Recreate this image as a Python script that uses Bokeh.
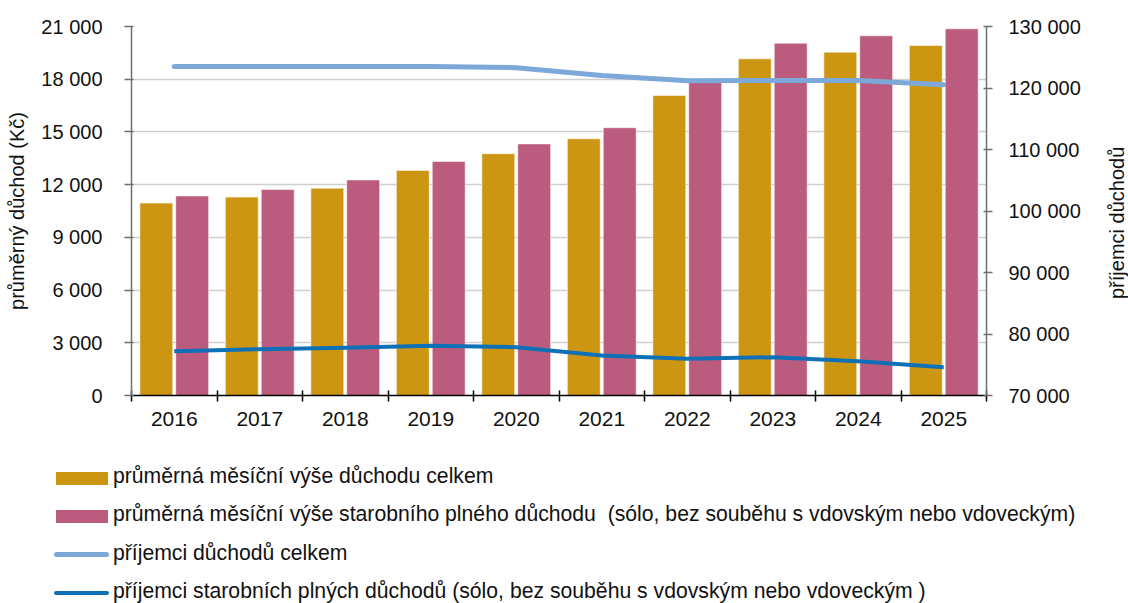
from bokeh.plotting import figure
from bokeh.layouts import column, row
from bokeh.models import (Range1d, LinearAxis, FixedTicker, ColumnDataSource, Div)
from bokeh.transform import dodge
from bokeh.embed import file_html
from bokeh.resources import INLINE

# ---- data ----
years = ["2016", "2017", "2018", "2019", "2020", "2021", "2022", "2023", "2024", "2025"]
avg_pension_total = [10950, 11290, 11800, 12810, 13760, 14610, 17070, 19160, 19540, 19920]
avg_old_age_full = [11360, 11720, 12270, 13320, 14320, 15240, 17870, 20050, 20470, 20870]
recipients_total = [123500, 123500, 123500, 123500, 123300, 122030, 121170, 121220, 121220, 120520]
recipients_old_age_full = [77200, 77530, 77750, 78080, 77850, 76500, 75960, 76230, 75580, 74600]
left_ticks = [0, 3000, 6000, 9000, 12000, 15000, 18000, 21000]
right_ticks = [70000, 80000, 90000, 100000, 110000, 120000, 130000]

left_title = "průměrný důchod (Kč)"
right_title = "příjemci důchodů"
label_bar1 = "průměrná měsíční výše důchodu celkem"
label_bar2 = "průměrná měsíční výše starobního plného důchodu  (sólo, bez souběhu s vdovským nebo vdoveckým)"
label_line1 = "příjemci důchodů celkem"
label_line2 = "příjemci starobních plných důchodů (sólo, bez souběhu s vdovským nebo vdoveckým )"

FONT = "Liberation Sans"
GOLD = "#CC9613"
PINK = "#BB5B7E"
LIGHT_BLUE = "#7CA8DA"
DARK_BLUE = "#0E71B8"
TXT = "#111111"

idx = list(range(len(years)))
src = ColumnDataSource(dict(x=idx, years=years, a=avg_pension_total, b=avg_old_age_full,
                            r1=recipients_total, r2=recipients_old_age_full))


def fmt(v):
    return f"{v:,}".replace(",", " ")


W = 1128
W_LABEL = 23
H_MAIN = 440
H_LEG = 163

p = figure(width=W - W_LABEL, height=H_MAIN, output_backend="svg", toolbar_location=None,
           x_range=Range1d(-0.5, len(years) - 0.5), y_range=Range1d(left_ticks[0], left_ticks[-1]),
           min_border_left=131, min_border_right=W - W_LABEL - 986, min_border_top=26,
           min_border_bottom=45)
p.extra_y_ranges = {"right": Range1d(right_ticks[0], right_ticks[-1])}
p.outline_line_color = None
p.background_fill_color = "white"
p.border_fill_color = "white"

# bars
bw = 0.385
bar_kw = dict(line_color="white", line_alpha=0.55, line_width=1)
rb1 = p.vbar(x=dodge("x", -0.21), top="a", width=bw, source=src, fill_color=GOLD, **bar_kw)
rb2 = p.vbar(x=dodge("x", 0.21), top="b", width=bw, source=src, fill_color=PINK, **bar_kw)

# lines
rl1 = p.line(x="x", y="r1", source=src, y_range_name="right", line_color=LIGHT_BLUE,
             line_width=5, line_cap="round", line_join="round")
rl2 = p.line(x="x", y="r2", source=src, y_range_name="right", line_color=DARK_BLUE,
             line_width=4, line_join="round")

# x axis
xa = p.xaxis[0]
xa.ticker = FixedTicker(ticks=idx, minor_ticks=[i - 0.5 for i in range(len(years) + 1)])
xa.major_label_overrides = {i: y for i, y in enumerate(years)}
xa.major_tick_out = 0
xa.major_tick_in = 0
xa.minor_tick_out = 6
xa.minor_tick_in = 5
xa.minor_tick_line_color = "#000000"
xa.minor_tick_line_width = 1.5
xa.axis_line_color = "#000000"
xa.axis_line_width = 1.5
xa.major_label_standoff = 10
xa.major_label_text_font = FONT
xa.major_label_text_font_size = "21px"
xa.major_label_text_color = TXT

# left axis
ya = p.yaxis[0]
ya.ticker = FixedTicker(ticks=left_ticks)
ya.major_label_overrides = {t: fmt(t) for t in left_ticks}
ya.minor_tick_line_color = None
ya.major_tick_out = 7
ya.major_tick_in = 2
ya.major_tick_line_color = "#6f6f6f"
ya.major_tick_line_width = 1.5
ya.axis_line_color = "#6f6f6f"
ya.axis_line_width = 1.5
ya.major_label_standoff = 22
ya.major_label_text_font = FONT
ya.major_label_text_font_size = "20px"
ya.major_label_text_color = TXT
ya.axis_label = left_title
ya.axis_label_text_font = FONT
ya.axis_label_text_font_size = "20px"
ya.axis_label_text_font_style = "normal"
ya.axis_label_text_color = TXT
ya.axis_label_standoff = 10

# right axis
ra = LinearAxis(y_range_name="right", ticker=FixedTicker(ticks=right_ticks))
ra.major_label_overrides = {t: fmt(t) for t in right_ticks}
ra.minor_tick_line_color = None
ra.major_tick_out = 6
ra.major_tick_in = 3
ra.major_tick_line_color = "#6f6f6f"
ra.major_tick_line_width = 1.5
ra.axis_line_color = "#6f6f6f"
ra.axis_line_width = 1.5
ra.major_label_standoff = 16
ra.major_label_text_font = FONT
ra.major_label_text_font_size = "20px"
ra.major_label_text_color = TXT
p.add_layout(ra, "right")

# grid
p.xgrid.grid_line_color = None
p.ygrid.ticker = FixedTicker(ticks=left_ticks)
p.ygrid.grid_line_color = "#cfcfcf"
p.ygrid.grid_line_width = 1.5

# ---- right axis title (reads bottom-to-top, real text) ----
rt_html = (f'<div style="position:relative;width:{W_LABEL}px;height:{H_MAIN}px;background:white;">'
           f'<div style="position:absolute;left:1px;top:0px;width:22px;height:446px;'
           f'writing-mode:vertical-rl;transform:rotate(180deg);text-align:center;'
           f'line-height:22px;white-space:nowrap;font-family:\'{FONT}\';font-size:20px;'
           f'color:{TXT};">{right_title}</div></div>')
rtitle = Div(text=rt_html, width=W_LABEL, height=H_MAIN, margin=(0, 0, 0, 0),
             styles={"margin": "0", "padding": "0"})

# ---- legend below the chart (real text) ----
legend_rows = [
    ("bar", GOLD, label_bar1),
    ("bar", PINK, label_bar2),
    ("line5", LIGHT_BLUE, label_line1),
    ("line4", DARK_BLUE, label_line2),
]
first_center = 38.0
pitch = 38.2
parts = []
for i, (kind, color, text) in enumerate(legend_rows):
    c = first_center + i * pitch
    if kind == "bar":
        sw = (f'<span style="position:absolute;left:56px;top:{c - 6.5:.1f}px;width:52px;'
              f'height:13px;background:{color};"></span>')
    else:
        h = 5 if kind == "line5" else 4
        sw = (f'<span style="position:absolute;left:54px;top:{c - h / 2:.1f}px;width:55px;'
              f'height:{h}px;border-radius:{h / 2}px;background:{color};"></span>')
    tx = (f'<span style="position:absolute;left:113px;top:{c - 12.8:.1f}px;line-height:22px;'
          f'white-space:pre;">{text}</span>')
    parts.append(sw + tx)

html = (f'<div style="position:relative;width:{W}px;height:{H_LEG}px;margin:0;padding:0;'
        f'font-family:\'{FONT}\';font-size:21.2px;color:{TXT};background:white;">'
        + "".join(parts) + '</div>')
leg = Div(text=html, width=W, height=H_LEG, margin=(0, 0, 0, 0),
          styles={"margin": "0", "padding": "0"})

layout = column(row(p, rtitle, spacing=0), leg, spacing=0)
open("out.html", "w").write(file_html(layout, INLINE))
